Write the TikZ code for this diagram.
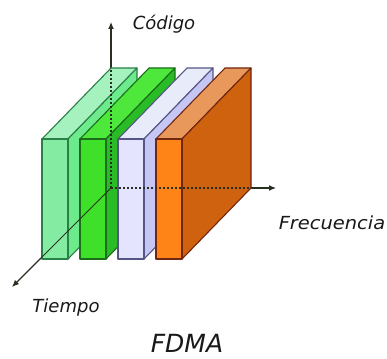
\documentclass[tikz,border=0pt]{standalone}
\usepackage{fontspec}
\setmainfont{DejaVu Sans}
\usetikzlibrary{arrows.meta}
\definecolor{gAf}{HTML}{84ECA2}
\definecolor{gAs}{HTML}{6CEA8C}
\definecolor{gAt}{HTML}{A6F2BE}
\definecolor{gAe}{HTML}{2A8046}
\definecolor{gBf}{HTML}{3EE02A}
\definecolor{gBs}{HTML}{2ABC26}
\definecolor{gBt}{HTML}{4EE83C}
\definecolor{gBe}{HTML}{1A6E1A}
\definecolor{lCf}{HTML}{E4E4FF}
\definecolor{lCs}{HTML}{C6C6F4}
\definecolor{lCt}{HTML}{E8ECFA}
\definecolor{lCe}{HTML}{565686}
\definecolor{oDf}{HTML}{FF8418}
\definecolor{oDs}{HTML}{CF620E}
\definecolor{oDt}{HTML}{E8985A}
\definecolor{oDe}{HTML}{722610}
\definecolor{axiscol}{HTML}{2A3020}
\tikzset{
  axisline/.style={draw=axiscol,line width=1.1pt,-{Latex[length=7pt,width=6pt]}},
  hidden/.style={draw=axiscol,line width=1.1pt,dash pattern=on 2pt off 2pt},
  lbl/.style={font=\fontsize{18}{20}\selectfont\itshape,text=black!90,inner sep=0pt,anchor=base},
  title/.style={font=\fontsize{25}{28}\selectfont\itshape,text=black!90,inner sep=0pt,anchor=base},
  facestyle/.style={line width=1.1pt,line join=round}
}
% #1 left x, #2 front, #3 side, #4 top, #5 edge
\newcommand{\drawslab}[5]{%
  \draw[facestyle,draw=#5,fill=#4] (#1,139) -- (#1+26,139) -- (#1+95,68) -- (#1+69,68) -- cycle;
  \draw[facestyle,draw=#5,fill=#3] (#1+26,139) -- (#1+95,68) -- (#1+95,188) -- (#1+26,259) -- cycle;
  \draw[facestyle,draw=#5,fill=#2] (#1,139) rectangle (#1+26,259);
}
\begin{document}
\begin{tikzpicture}[x=1pt,y=-1pt]
\useasboundingbox (0,0) rectangle (387,358);
\fill[white] (0,0) rectangle (387,358);
\coordinate (O) at (111,188);
\coordinate (Cin) at (111,68);
\coordinate (Ctip) at (111,22);
\coordinate (Fin) at (251,188);
\coordinate (Ftip) at (276,188);
\coordinate (Tin) at (41,258);
\coordinate (Ttip) at (12,287);
\draw[axisline] (Cin) -- (Ctip);
\drawslab{42}{gAf}{gAs}{gAt}{gAe}
\drawslab{80}{gBf}{gBs}{gBt}{gBe}
\drawslab{118}{lCf}{lCs}{lCt}{lCe}
\drawslab{156}{oDf}{oDs}{oDt}{oDe}
\draw[hidden] (O) -- (Cin);
\draw[hidden] (O) -- (Fin);
\draw[draw=axiscol,line width=1pt] (O) -- (Tin);
\draw[axisline] (Fin) -- (Ftip);
\draw[axisline] (Tin) -- (Ttip);
\node[lbl] (codigo) at (164,30) {Código};
\node[lbl] (frec) at (332,229) {\scalebox{1.08}[1]{Frecuencia}};
\node[lbl] (tiempo) at (66,312) {Tiempo};
\node[title] (fdma) at (187,352) {FDMA};
\end{tikzpicture}
\end{document}
